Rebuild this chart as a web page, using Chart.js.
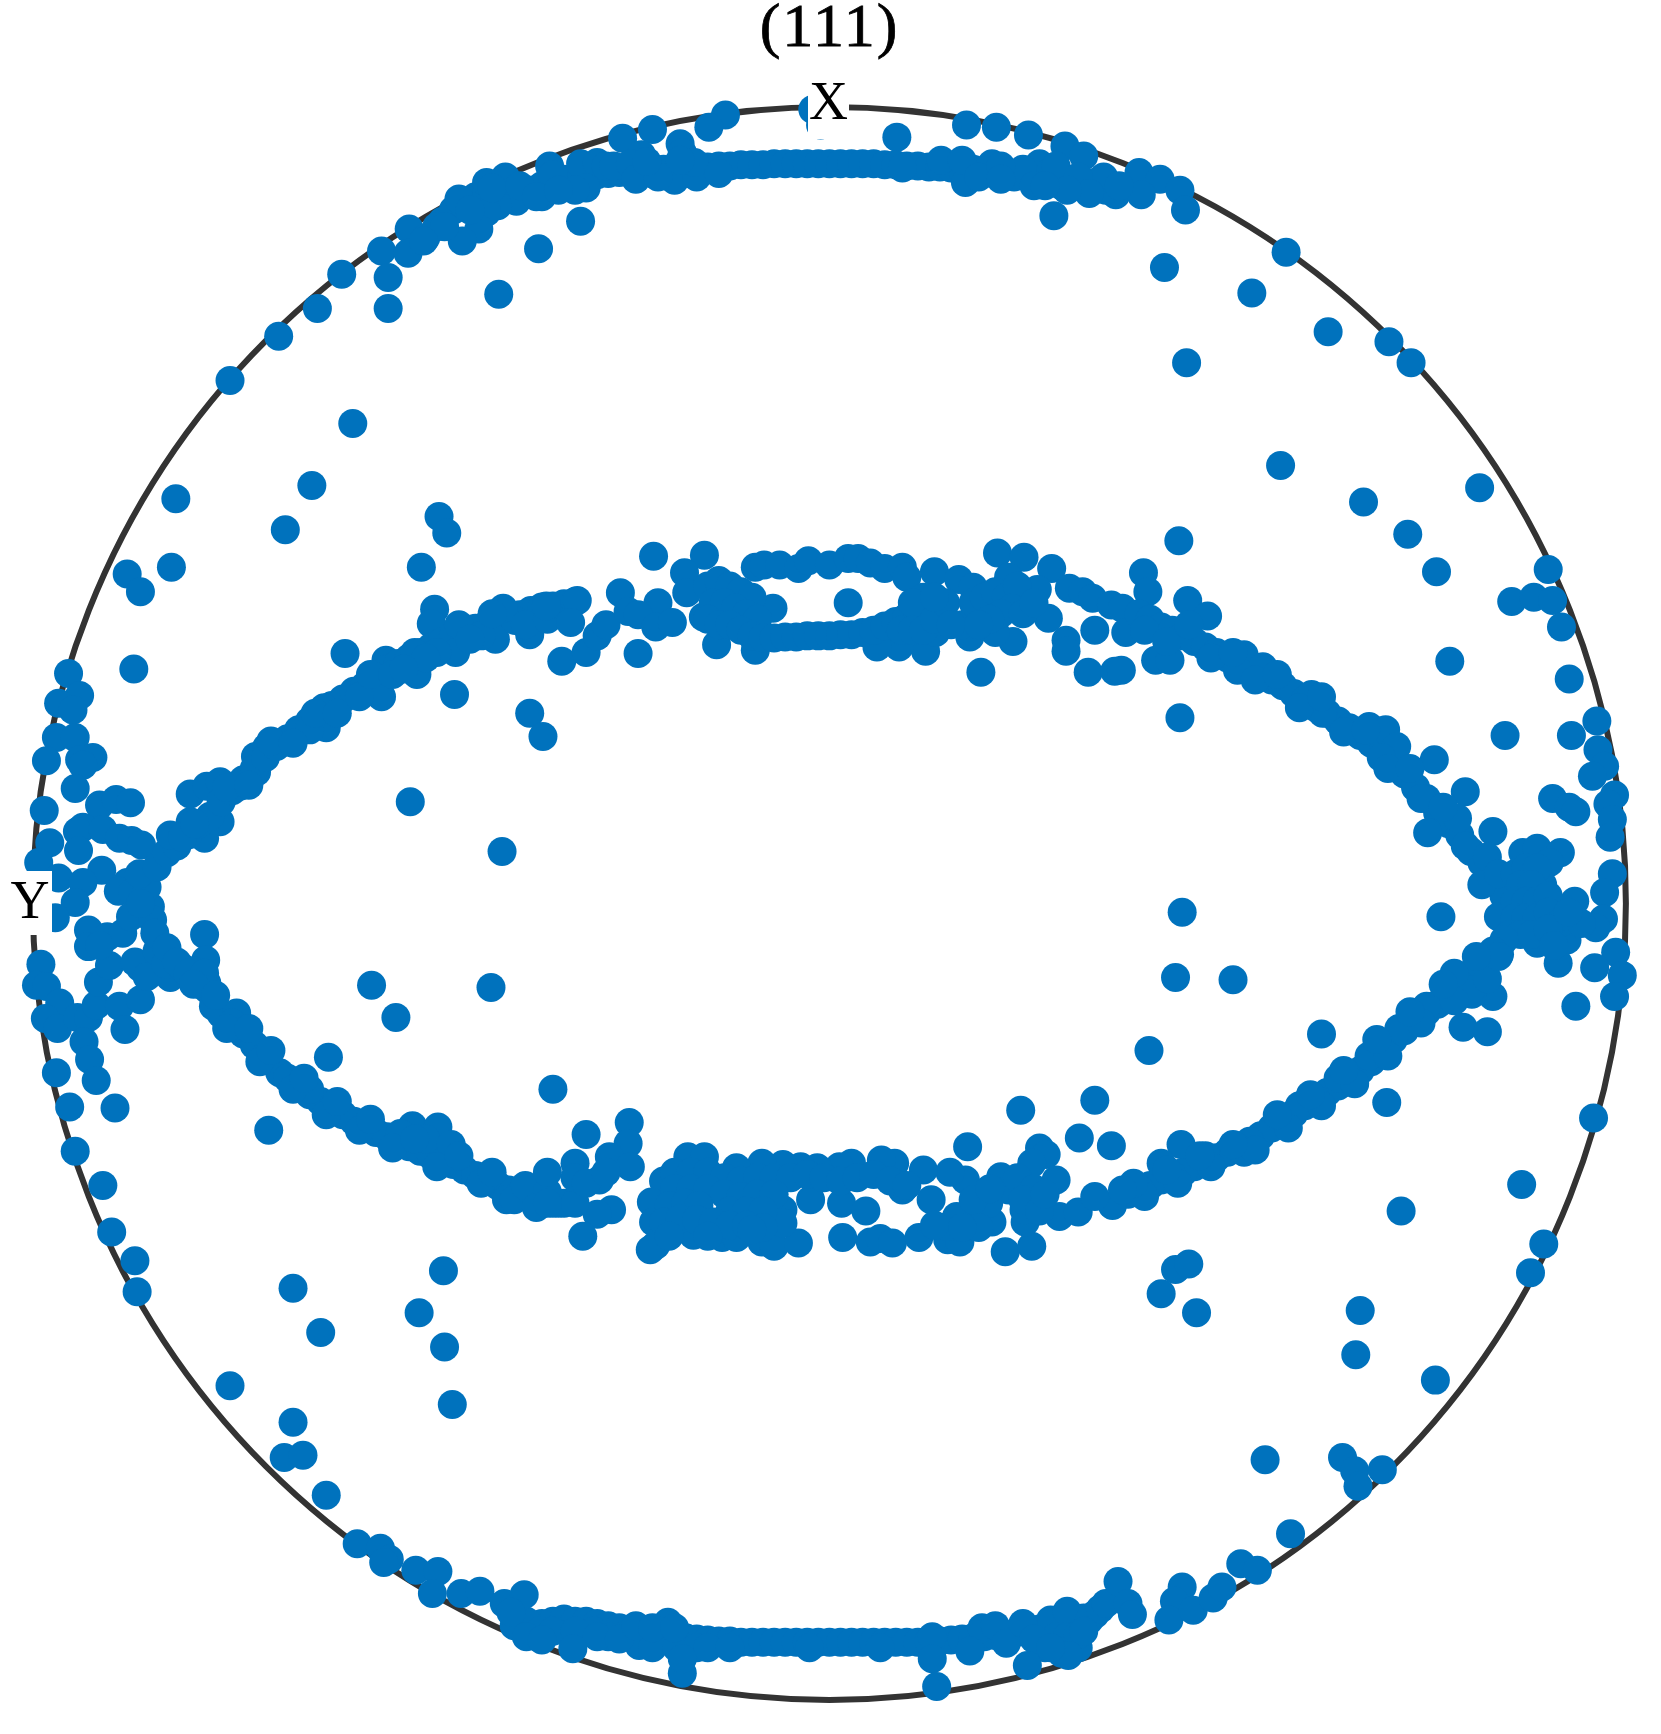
<!DOCTYPE html>
<html><head><meta charset="utf-8">
<script src="https://cdn.jsdelivr.net/npm/chart.js@4/dist/chart.umd.min.js"></script>
<style>
html,body{margin:0;padding:0;background:#fff;overflow:hidden}
#wrap{position:relative;width:1661px;height:1734px;overflow:hidden}
canvas{position:absolute;left:0;top:0}
.t{position:absolute;font-family:"Liberation Serif",serif;color:#000;white-space:nowrap;line-height:1}
</style></head><body>
<div id="wrap">
<canvas id="c" width="1661" height="1734"></canvas>
<div class="t" style="left:752px;top:-6px;width:155px;text-align:center;font-size:62px;letter-spacing:2px;-webkit-text-stroke:.8px #000">(111)</div>
<div class="t" style="left:808px;top:73px;width:41px;height:66px;background:#fff;text-align:center;font-size:54px;line-height:56px">X</div>
<div class="t" style="left:8px;top:871px;width:44px;height:64px;background:#fff;text-align:center;font-size:54px;line-height:58px">Y</div>
</div>
<script>
const titleText = "(111)";
const rimCentre = [[750,817]];
const topOutliers = [[656,104],[641,115],[590,117],[563,125],[615,130],[617,138],[580,140],[811,124],[874,113],[901,115],[930,122],[963,132],[980,141],[1030,156],[1049,162],[1067,172],[1072,190],[953,195],[1009,176],[1032,176],[525,200],[487,225],[451,266],[345,227],[370,207],[369,229],[351,251],[351,279],[309,248],[287,279],[252,304],[208,344],[319,383],[735,99],[742,113],[1163,228],[1053,242],[1132,265],[1201,300],[1256,309],[1276,328],[1073,328],[1158,421],[1338,441],[1233,454],[1273,483],[1299,517],[1400,515],[1367,544],[1387,540],[1404,543],[1412,567],[1311,598],[1419,614],[1421,665],[1361,665],[1444,652],[1445,678],[1451,693],[1440,702],[1460,719],[1454,727],[1458,741],[1456,757],[1404,722],[1419,730],[1425,734],[159,451],[282,439],[258,479],[155,513],[115,519],[127,535],[121,605]];
const leftCluster = [[62,609],[72,629],[53,636],[66,642],[51,667],[68,667],[42,688],[84,685],[72,687],[75,692],[68,713],[40,733],[90,728],[105,723],[118,726],[75,748],[70,752],[45,762],[35,780],[71,769],[93,750],[108,758],[119,760],[128,764],[53,794],[92,787],[75,798],[68,816],[50,830],[115,798],[107,806],[80,841],[80,856],[97,847],[111,844],[37,872],[33,891],[42,892],[54,907],[41,921],[52,930],[70,920],[80,920],[87,909],[89,888],[99,873],[108,910],[127,904],[113,931],[127,875],[122,870],[133,883],[154,884],[76,942],[81,958],[87,977],[51,970],[63,1001],[104,1002],[185,845],[186,868],[68,1041],[93,1072],[101,1114],[122,1140],[124,1168],[120,807],[136,820],[118,829],[133,802],[138,832],[127,817],[126,790],[90,855],[142,860],[150,872],[165,875],[175,878]];
const midOutliers = [[397,467],[404,482],[381,513],[393,551],[390,564],[312,591],[349,597],[411,628],[479,645],[491,666],[371,725],[454,770],[336,891],[444,893],[358,920],[297,956],[500,985],[243,1022],[1066,489],[1034,518],[1038,535],[1074,543],[1092,557],[1067,649],[1069,825],[1303,829],[1063,884],[1115,886],[1195,935],[1039,950],[1254,997],[990,995],[923,1004],[1441,1011],[1376,1071],[1267,1095],[1396,1125],[1384,1151],[1063,1148],[1075,1143],[1050,1170],[1082,1187],[1230,1185],[1226,1225],[1298,1248],[1144,1320],[1214,1318],[1225,1330],[1228,1344],[1250,1329],[1167,1387],[401,1149],[265,1165],[379,1187],[290,1205],[402,1218],[208,1253],[409,1270],[265,1286],[257,1318],[274,1316],[295,1352],[323,1396],[344,1400],[352,1410],[347,1413],[376,1420],[396,1421],[391,1441],[417,1441],[434,1439]];
const topBand = [[385,215],[400,200],[410,190],[420,186],[430,178],[440,175],[450,172],[460,178],[470,176],[480,172],[490,168],[500,165],[510,162],[520,160],[530,160],[540,158],[550,157],[560,156],[570,155],[580,154],[590,154],[600,153],[610,152],[620,152],[630,151],[640,151],[650,150],[660,150],[670,149],[680,149],[690,149],[700,148],[710,148],[720,148],[730,148],[740,148],[750,148],[760,148],[770,148],[780,148],[790,148],[800,149],[810,149],[820,150],[830,150],[840,151],[850,151],[860,152],[870,153],[880,153],[890,154],[900,155],[910,156],[920,157],[930,158],[940,160],[950,161],[960,163],[970,165],[980,167],[990,169],[1000,172],[497,150],[500,158],[440,165],[457,160],[415,180],[395,205],[525,148],[540,147],[548,150],[530,170],[520,172],[490,178],[467,182],[450,186],[440,192],[433,207],[418,218],[402,205],[383,218],[610,163],[630,160],[628,147],[615,145],[851,145],[873,165],[897,148],[917,160],[940,148],[925,153],[950,155],[960,168],[990,165],[998,160],[1012,168],[816,152],[870,145],[885,160],[905,150],[935,168],[955,150],[975,160],[985,175],[965,172],[945,168],[905,162],[425,190],[445,170],[470,168],[485,178],[505,172],[555,150],[570,148],[575,162],[595,160],[585,146],[650,157]];
const upperLeftArc = [[142,784],[151,771],[156,757],[172,743],[172,718],[187,711],[199,707],[199,743],[185,758],[217,711],[232,698],[231,684],[241,676],[160,765],[170,755],[180,745],[190,738],[200,725],[210,715],[220,705],[230,695],[240,685],[250,675],[260,668],[270,660],[280,652],[290,645],[300,638],[310,632],[320,625],[330,620],[340,612],[350,605],[360,600],[370,595],[380,590],[390,585],[400,580],[410,575],[420,572],[430,568],[440,565],[450,561],[460,558],[470,556],[480,552],[490,549],[500,548],[510,546],[520,544],[154,755],[165,757],[176,745],[293,640],[295,658],[280,660],[345,630],[377,610],[412,590],[448,578],[479,574],[466,561],[508,598],[530,590],[540,575],[548,565],[205,712],[225,710],[245,670],[265,672],[285,645],[305,645],[325,630],[335,610],[355,610],[375,590],[395,590],[415,565],[435,575],[455,550],[475,565],[495,560],[445,555],[425,578],[385,595],[365,605]];
const upperMiddle = [[591,503],[637,502],[619,518],[561,536],[522,543],[494,548],[516,563],[595,545],[568,553],[577,556],[593,567],[608,563],[621,536],[636,558],[648,583],[683,588],[699,550],[767,545],[683,513],[691,511],[705,511],[722,514],[731,507],[750,511],[767,505],[776,505],[787,509],[800,514],[816,513],[820,522],[902,500],[926,504],[951,514],[912,522],[845,517],[867,524],[880,531],[938,533],[967,532],[979,535],[988,541],[1005,547],[1015,550],[948,559],[990,570],[964,579],[964,589],[984,608],[1008,607],[1014,606],[887,608],[916,580],[900,572],[877,576],[870,565],[837,589],[813,585],[793,585],[846,572],[1018,572],[1045,597],[1058,597],[577,591],
[640,530],[650,525],[660,530],[670,535],[680,540],[645,545],[655,545],[665,550],[675,555],[685,560],[640,560],[650,565],[660,565],[670,570],[680,575],[690,577],[700,577],[710,576],[720,576],[730,575],[740,575],[750,575],[760,574],[770,574],[780,572],[790,570],[800,566],[810,562],[820,558],[830,555],[835,540],[825,545],[815,570],[825,570],[835,570],[845,560],[855,545],[845,540],[860,565],[880,545],[890,540],[900,535],[910,540],[920,530],[915,550],[905,555],[895,560],[885,565],[925,555],[935,545]];
const upperRightArc = [[1030,555],[1040,560],[1050,567],[1060,570],[1070,575],[1080,580],[1090,585],[1100,590],[1110,595],[1120,600],[1130,605],[1140,610],[1150,615],[1160,620],[1170,627],[1180,633],[1190,640],[1200,645],[1210,652],[1220,658],[1230,665],[1240,672],[1250,680],[1260,690],[1270,700],[1280,712],[1290,722],[1300,735],[1310,745],[1320,755],[1330,770],[1340,780],[1350,795],[1360,810],[1125,592],[1142,603],[1119,606],[1186,628],[1196,645],[1238,657],[1253,660],[1263,675],[1249,685],[1297,687],[1325,716],[1291,753],[1350,752],[1318,740],[1035,570],[1055,580],[1075,565],[1095,595],[1115,590],[1135,615],[1155,610],[1175,640],[1195,630],[1215,662],[1235,660],[1255,695],[1275,695],[1285,722],[1305,730],[1325,765],[1345,775],[1340,800],[1355,790]];
const rightCluster = [[1377,771],[1390,767],[1411,771],[1401,780],[1395,800],[1458,790],[1451,807],[1424,815],[1450,831],[1443,839],[1355,829],[1390,853],[1417,850],[1409,871],[1461,861],[1442,875],[1467,882],[1460,901],[1425,910],[1356,863],[1350,901],[1331,899],[1323,929],[1345,933],[1370,790],[1380,785],[1390,785],[1375,800],[1385,800],[1370,815],[1380,815],[1390,815],[1400,810],[1370,830],[1380,830],[1390,830],[1400,825],[1410,835],[1420,830],[1430,835],[1365,845],[1375,845],[1385,845],[1400,840],[1418,825],[1405,855]];
const lowerRightArc = [[1360,850],[1350,860],[1340,870],[1330,880],[1320,890],[1310,900],[1300,908],[1290,915],[1280,922],[1270,932],[1260,940],[1250,950],[1240,960],[1230,968],[1220,975],[1210,982],[1200,988],[1190,994],[1180,1000],[1170,1007],[1160,1014],[1150,1020],[1140,1027],[1130,1032],[1120,1038],[1110,1042],[1100,1047],[1090,1050],[1080,1055],[1070,1060],[1060,1063],[1050,1067],[1040,1072],[1030,1075],[1020,1080],[1330,895],[1345,885],[1315,880],[1290,910],[1265,930],[1238,955],[1210,975],[1175,1000],[1125,1042],[1068,1035],[1050,1052],[1090,1045],[1355,865],[1335,865],[1315,905],[1305,890],[1285,925],[1275,915],[1255,955],[1245,940],[1225,980],[1215,968],[1195,1000],[1185,990],[1165,1020],[1155,1008],[1135,1040],[1115,1035],[1095,1055],[1085,1045],[1065,1070],[1055,1058],[1035,1082],[1025,1070]];
const lowerLeftArc = [[140,844],[151,857],[160,870],[170,880],[180,890],[187,889],[193,910],[200,917],[214,916],[220,935],[230,945],[240,955],[253,970],[260,975],[270,982],[280,990],[290,996],[300,1003],[310,1008],[320,1014],[330,1019],[340,1024],[350,1028],[360,1032],[370,1037],[380,1041],[390,1045],[400,1050],[410,1053],[420,1058],[430,1063],[440,1068],[450,1072],[460,1076],[470,1080],[480,1083],[490,1086],[500,1088],[510,1088],[185,880],[188,895],[210,925],[280,985],[373,1018],[396,1019],[385,1030],[408,1035],[362,1025],[458,1085],[175,890],[195,900],[205,930],[225,930],[235,960],[245,950],[265,985],[275,975],[295,1008],[305,996],[325,1022],[335,1012],[355,1038],[375,1030],[395,1055],[415,1045],[435,1070],[445,1060],[465,1085],[475,1072],[495,1078],[485,1092]];
const lowerMiddle = [[530,1026],[569,1015],[568,1034],[551,1046],[570,1055],[520,1052],[495,1060],[542,1067],[553,1094],[540,1098],[527,1118],[505,1088],[520,1088],[495,1088],[593,1126],[588,1130],[622,1046],[637,1046],[600,1068],[589,1087],[591,1105],[627,1117],[653,1119],[666,1119],[689,1123],[700,1127],[722,1124],[708,1094],[708,1106],[733,1085],[761,1088],[783,1095],[762,1119],[787,1123],[796,1120],[807,1124],[831,1119],[857,1121],[868,1123],[909,1132],[933,1127],[927,1105],[926,1094],[897,1105],[875,1037],[976,1029],[1005,1036],[940,1038],[946,1044],[933,1052],[955,1067],[905,1064],[873,1067],[859,1060],[835,1058],[809,1052],[797,1049],[770,1052],[759,1055],[739,1056],[724,1055],[708,1053],[689,1052],[666,1056],[816,1076],[842,1085],[857,1109],[879,1097],[894,1088],[912,1076],[958,1100],[975,1096],[1006,1090],[990,1082],[1015,1076],[520,1065],[530,1070],[548,1060],
[610,1060],[625,1060],[640,1060],[655,1065],[670,1068],[685,1065],[700,1065],[715,1065],[730,1062],[745,1065],[760,1068],[775,1065],[790,1062],[805,1068],[820,1072],[610,1075],[625,1075],[640,1075],[655,1080],[670,1082],[685,1080],[700,1080],[605,1090],[620,1088],[632,1090],[660,1095],[675,1095],[690,1095],[600,1105],[615,1102],[630,1103],[645,1105],[660,1108],[675,1108],[690,1110],[605,1118],[640,1118],[680,1112],[865,1100],[880,1085],[895,1075],[920,1065],[935,1075],[925,1085],[940,1095],[945,1080],[885,1110],[870,1110],[845,1108]];
const bottomBand = [[480,1470],[490,1468],[500,1466],[510,1464],[520,1466],[530,1466],[540,1468],[550,1470],[560,1472],[570,1474],[580,1476],[590,1478],[600,1478],[610,1480],[620,1481],[630,1482],[640,1483],[650,1484],[660,1484],[670,1485],[680,1485],[690,1485],[700,1485],[710,1485],[720,1485],[730,1485],[740,1485],[750,1485],[760,1485],[770,1485],[780,1485],[790,1485],[800,1485],[810,1485],[820,1485],[830,1485],[840,1484],[850,1484],[860,1483],[870,1482],[880,1481],[890,1480],[900,1479],[910,1478],[920,1476],[930,1475],[940,1473],[950,1471],[960,1470],[970,1467],[980,1463],[990,1460],[604,1467],[550,1480],[578,1488],[590,1490],[612,1490],[630,1490],[465,1470],[476,1466],[488,1475],[537,1475],[950,1465],[965,1457],[985,1465],[995,1455],[975,1490],[960,1495],[945,1490],[955,1480],[965,1480],[975,1478],[888,1472],[843,1480],[500,1475],[520,1475],[540,1480],[560,1482],[575,1470],[590,1472],[610,1472],[640,1490],[660,1490],[900,1470],[910,1486],[925,1468],[935,1482],[980,1475],[1000,1450]];
const bottomOutliers = [[456,1450],[474,1442],[462,1458],[476,1480],[490,1483],[518,1491],[617,1513],[617,1500],[732,1490],[843,1500],[847,1525],[929,1506],[877,1493],[796,1490],[966,1497],[950,1490],[1011,1430],[1020,1450],[1024,1460],[1069,1435],[1062,1448],[1057,1465],[1079,1456],[1097,1445],[1105,1435],[1122,1414],[1137,1420]];

const allPoints = [].concat(topOutliers,leftCluster,midOutliers,topBand,upperLeftArc,upperMiddle,upperRightArc,rightCluster,lowerRightArc,lowerLeftArc,lowerMiddle,bottomBand,bottomOutliers);
const toXY = a => a.map(p => ({x:p[0],y:p[1]}));

new Chart(document.getElementById('c'),{
  type:'scatter',
  data:{datasets:[
    {label:titleText,data:toXY(allPoints),order:1,pointRadius:14.5,pointHoverRadius:14.5,pointBackgroundColor:'#0072BD',pointBorderWidth:0,showLine:false,clip:false},
    {label:'rim',data:toXY(rimCentre),order:2,pointRadius:796.5,pointHoverRadius:796.5,pointBackgroundColor:'rgba(0,0,0,0)',pointBorderColor:'#333333',pointBorderWidth:6,showLine:false,clip:false}
  ]},
  options:{
    responsive:false,animation:false,
    layout:{padding:0,autoPadding:false},
    events:[],
    plugins:{legend:{display:false},title:{display:false},tooltip:{enabled:false}},
    scales:{
      x:{type:'linear',min:0,max:1502,display:false},
      y:{type:'linear',min:0,max:1568,reverse:true,display:false}
    }
  }
});
</script>
</body></html>
